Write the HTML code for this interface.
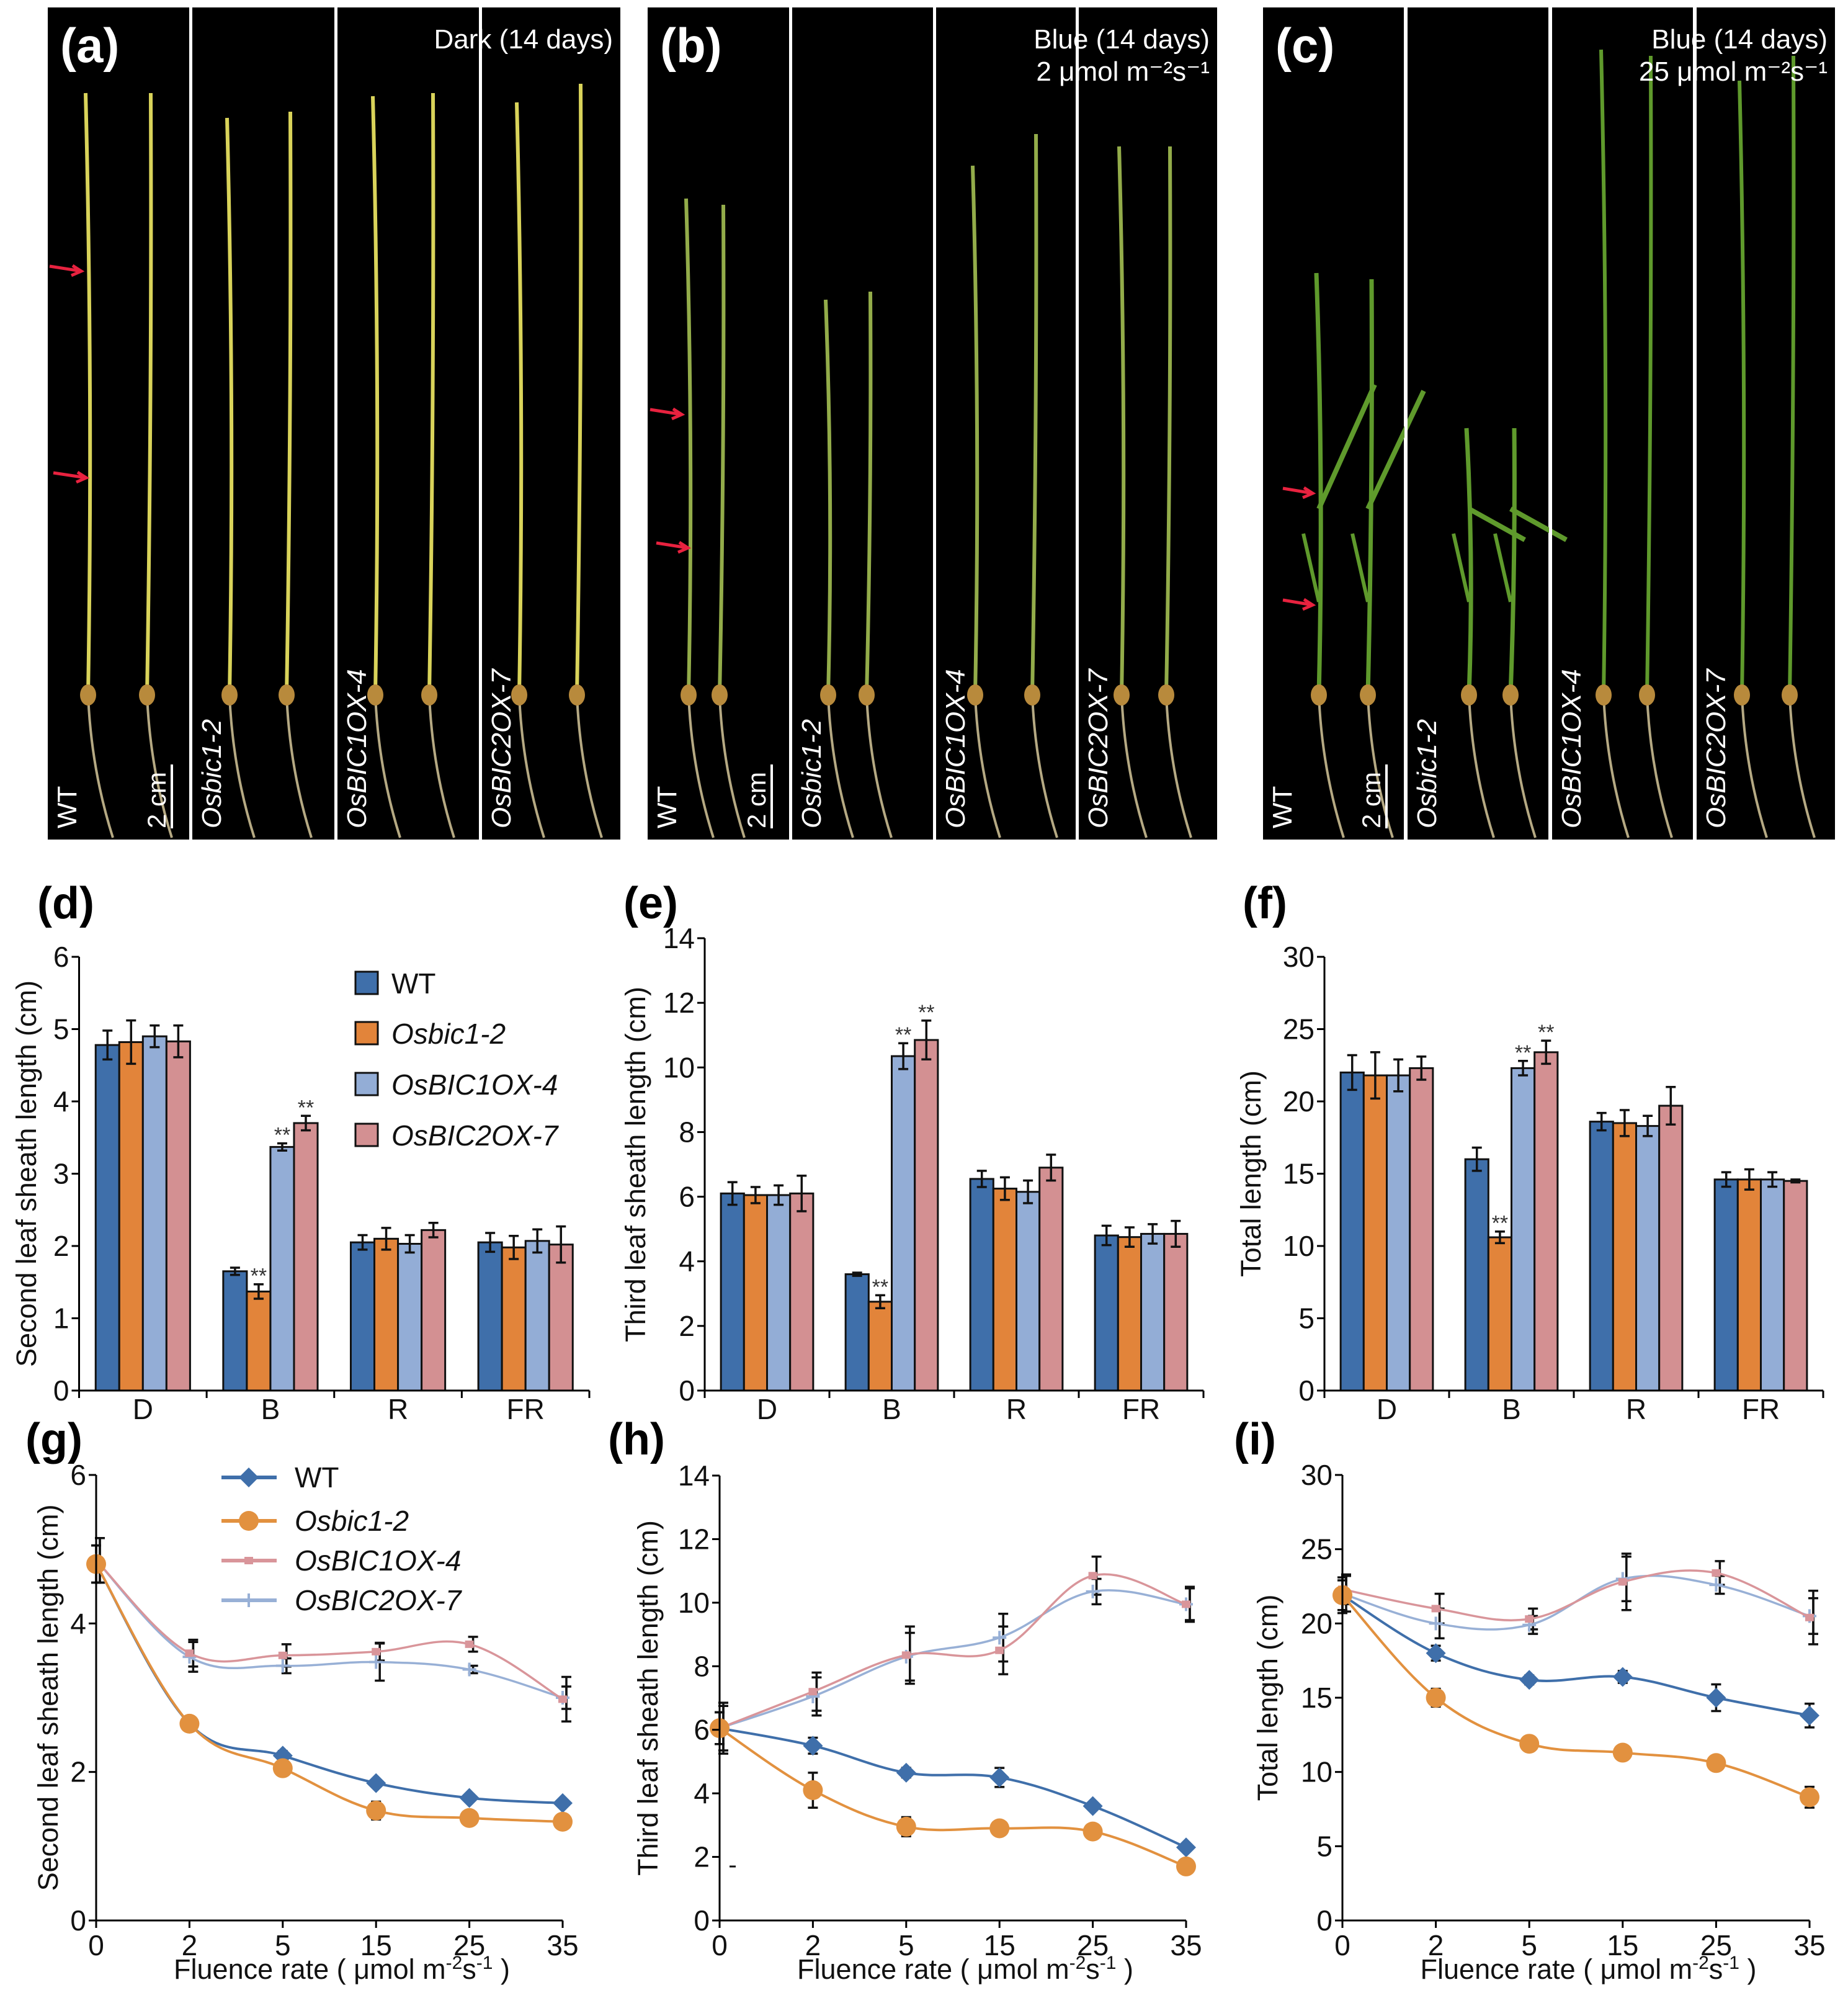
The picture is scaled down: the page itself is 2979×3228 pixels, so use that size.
<!DOCTYPE html>
<html><head><meta charset="utf-8">
<style>
html,body{margin:0;padding:0;background:#fff;}
svg{display:block;}
text{font-family:"Liberation Sans",Arial,sans-serif;}
</style></head>
<body>
<svg id="fig" xmlns="http://www.w3.org/2000/svg" width="2979" height="3228" viewBox="0 0 2979 3228">
<rect x="0" y="0" width="2979" height="3228" fill="#fff"/>
<g id="photos"></g>
<g id="charts"></g>
</svg>
<script>
// ---------- DATA ----------
const barCats = ['D','B','R','FR'];
const seriesNames = ['WT','Osbic1-2','OsBIC1OX-4','OsBIC2OX-7'];
// (d) second leaf sheath
const dWT  = [4.78,1.65,2.05,2.05];
const dOsb = [4.82,1.37,2.10,1.98];
const dOX4 = [4.90,3.37,2.03,2.07];
const dOX7 = [4.83,3.70,2.22,2.02];
const dWTe = [0.20,0.05,0.10,0.13];
const dOsbe= [0.30,0.10,0.15,0.16];
const dOX4e= [0.15,0.05,0.12,0.16];
const dOX7e= [0.22,0.10,0.10,0.25];
// (e) third leaf sheath
const eWT  = [6.10,3.60,6.55,4.80];
const eOsb = [6.05,2.75,6.25,4.75];
const eOX4 = [6.05,10.35,6.15,4.85];
const eOX7 = [6.10,10.85,6.90,4.85];
const eWTe = [0.35,0.05,0.25,0.30];
const eOsbe= [0.25,0.20,0.35,0.30];
const eOX4e= [0.30,0.40,0.35,0.30];
const eOX7e= [0.55,0.60,0.40,0.40];
// (f) total length
const fWT  = [22.0,16.0,18.6,14.6];
const fOsb = [21.8,10.6,18.5,14.6];
const fOX4 = [21.8,22.3,18.3,14.6];
const fOX7 = [22.3,23.4,19.7,14.5];
const fWTe = [1.2,0.8,0.6,0.5];
const fOsbe= [1.6,0.4,0.9,0.7];
const fOX4e= [1.1,0.5,0.7,0.5];
const fOX7e= [0.8,0.8,1.3,0.1];
// significance marks: [categoryIndex, seriesIndex]
const starMarks = [[1,1],[1,2],[1,3]];

const fluence = ['0','2','5','15','25','35'];
// (g)
const gWT  = [4.80,2.65,2.22,1.85,1.65,1.58];
const gOsb = [4.80,2.65,2.05,1.48,1.38,1.33];
const gOX4 = [4.85,3.60,3.57,3.62,3.72,2.98];
const gOX7 = [4.85,3.55,3.43,3.48,3.38,3.00];
const gWTe = [0.25,0.08,0.06,0.05,0.05,0.05];
const gOsbe= [0.25,0.10,0.06,0.12,0.05,0.10];
const gOX4e= [0.30,0.18,0.15,0.12,0.10,0.30];
const gOX7e= [0.30,0.20,0.10,0.25,0.05,0.15];
// (h)
const hWT  = [6.05,5.50,4.65,4.50,3.60,2.30];
const hOsb = [6.05,4.10,2.95,2.90,2.80,1.70];
const hOX4 = [6.05,7.20,8.35,8.50,10.85,9.95];
const hOX7 = [6.05,7.05,8.30,8.90,10.35,9.95];
const hWTe = [0.50,0.25,0.15,0.30,0.10,0.10];
const hOsbe= [0.50,0.55,0.30,0.15,0.15,0.10];
const hOX4e= [0.70,0.60,0.90,0.75,0.60,0.55];
const hOX7e= [0.80,0.60,0.75,0.75,0.40,0.50];
// (i)
const iWT  = [21.9,18.0,16.2,16.4,15.0,13.8];
const iOsb = [21.9,15.0,11.9,11.3,10.6,8.3];
const iOX4 = [22.3,21.0,20.3,22.8,23.4,20.4];
const iOX7 = [22.0,20.0,19.9,23.0,22.6,20.5];
const iWTe = [1.2,0.5,0.3,0.4,0.9,0.8];
const iOsbe= [1.0,0.6,0.4,0.4,0.3,0.7];
const iOX4e= [1.0,1.0,0.7,1.9,0.8,1.8];
const iOX7e= [1.2,1.0,0.6,1.5,0.6,1.2];

// ---------- HELPERS ----------
const NS='http://www.w3.org/2000/svg';
function mk(parent, tag, attrs, txt){
  const el=document.createElementNS(NS,tag);
  for(const k in attrs) el.setAttribute(k,attrs[k]);
  if(txt!==undefined) el.textContent=txt;
  parent.appendChild(el);
  return el;
}
const colors=['#3f6faa','#e2843a','#93add6','#d39092'];
const charts=document.getElementById('charts');
const photos=document.getElementById('photos');

// ---------- PHOTO PANELS ----------
const photoPanels=[
 {x:77,w:923,label:'(a)',lines:['Dark (14 days)'],color:'#d9d35a',strips:[[77,305],[310,539],[544,772],[777,1000]],
  plants:[[142,150],[237,150],[370,190],[462,180],[605,155],[692,150],[837,165],[930,135]],arrows:[[80,131,437],[86,139,770]]},
 {x:1044,w:918,label:'(b)',lines:['Blue (14 days)','2 μmol m⁻²s⁻¹'],color:'#93ac4a',strips:[[1044,1272],[1277,1504],[1509,1734],[1739,1962]],
  plants:[[1110,320],[1160,330],[1335,483],[1397,470],[1572,267],[1664,216],[1808,236],[1880,236]],arrows:[[1048,1099,668],[1058,1109,883]]},
 {x:2036,w:922,label:'(c)',lines:['Blue (14 days)','25 μmol m⁻²s⁻¹'],color:'#5f9a2c',strips:[[2036,2263],[2269,2496],[2502,2729],[2735,2958]],
  plants:[[2126,440],[2205,450],[2368,690],[2435,690],[2585,80],[2655,90],[2808,130],[2885,90]],arrows:[[2068,2116,795],[2068,2116,975]],leafy:true}
];
const stripNames=['WT','Osbic1-2','OsBIC1OX-4','OsBIC2OX-7'];
photoPanels.forEach((p,pi)=>{
  const g=mk(photos,'g',{});
  
  
  p.strips.forEach((s,si)=>{
    const r=mk(g,'rect',{x:s[0],y:12,width:s[1]-s[0],height:1341,fill:'#000'});
    
    
    const t=mk(g,'text',{transform:'translate('+(s[0]+46)+',1335) rotate(-90)',fill:'#fff','font-size':44,'font-style':si?'italic':'normal'},stripNames[si]);
    
    
  });
  p.plants.forEach((pl,k)=>{
    const x=pl[0], top=pl[1], seed=1120;
    const small = p.leafy && k<4;
    const stem=mk(g,'path',{d:'M'+x+' '+seed+' Q'+(x+8)+' '+((seed+top)/2)+' '+(x+(k%2?6:-4))+' '+top,stroke:p.color,'stroke-width':small?7:6,fill:'none'});
    
    
    if(small){
      const l1=mk(g,'path',{d:'M'+x+' '+(seed-300)+' L'+(x+90)+' '+(top+180),stroke:p.color,'stroke-width':8,fill:'none'});
      
      
      const l2=mk(g,'path',{d:'M'+x+' '+(seed-150)+' L'+(x-25)+' '+(seed-260),stroke:p.color,'stroke-width':6,fill:'none'});
      
      
    }
    const root=mk(g,'path',{d:'M'+x+' '+seed+' Q'+(x+5)+' 1240 '+(x+40)+' 1350',stroke:'#b5a983','stroke-width':4,fill:'none'});
    
    
    const sd=mk(g,'ellipse',{cx:x,cy:seed,rx:13,ry:17,fill:'#b88a3c'});
    
    
  });
  p.strips.slice(1).forEach(s=>{
    const d=mk(g,'rect',{x:s[0]-5,y:12,width:5,height:1341,fill:'#fff'});
    
    
  });
  const lab=mk(g,'text',{x:p.x+20,y:100,fill:'#fff','font-size':78,'font-weight':'bold'},p.label);
  
  
  p.lines.forEach((ln,li)=>{
    const t=mk(g,'text',{x:p.x+p.w-12,y:78+li*52,fill:'#fff','font-size':44,'text-anchor':'end'},ln);
    
    
  });
  p.arrows.forEach(a=>{
    const ar=mk(g,'path',{d:'M'+a[0]+' '+(a[2]-8)+' L'+a[1]+' '+a[2]+' M'+(a[1]-14)+' '+(a[2]-9)+' L'+a[1]+' '+a[2]+' L'+(a[1]-16)+' '+(a[2]+7),stroke:'#e8223f','stroke-width':5,fill:'none'});
    
    
  });
  const sbx=p.strips[0][1]-28;
  const sb=mk(g,'line',{x1:sbx,y1:1232,x2:sbx,y2:1335,stroke:'#fff','stroke-width':4});
  
  
  const sbt=mk(g,'text',{transform:'translate('+(sbx-10)+',1335) rotate(-90)',fill:'#fff','font-size':42},'2 cm');
  
  
});

// ---------- AXES ----------
function yAxis(g,c){
  const ax=mk(g,'line',{x1:c.ax,y1:c.y0,x2:c.ax,y2:c.yT,stroke:'#000','stroke-width':3});
  
  
  for(let v=0;v<=c.max+1e-9;v+=c.step){
    const y=c.ys(v);
    const tk=mk(g,'line',{x1:c.ax-12,y1:y,x2:c.ax,y2:y,stroke:'#000','stroke-width':3});
    
    
    const tl=mk(g,'text',{x:c.ax-16,y:y+16,'font-size':46,'text-anchor':'end',fill:'#111'},String(v));
    
    
  }
  const tt=mk(g,'text',{transform:'translate('+c.tx+','+((c.y0+c.yT)/2)+') rotate(-90)','font-size':45,'text-anchor':'middle',fill:'#111'},c.title);
  
  
  const pl=mk(g,'text',{x:c.lx,y:c.ly,'font-size':72,'font-weight':'bold',fill:'#000'},c.label);
  
  
}
function errBar(g,x,y1,y2,cap){
  const e=mk(g,'path',{d:'M'+x+' '+y1+' L'+x+' '+y2+' M'+(x-cap)+' '+y1+' L'+(x+cap)+' '+y1+' M'+(x-cap)+' '+y2+' L'+(x+cap)+' '+y2,stroke:'#111','stroke-width':3.5,fill:'none'});
  
  
}

// ---------- BAR CHARTS ----------
const barCharts=[
 {label:'(d)',lx:60,ly:1480,ax:127.5,x1:950,y0:2241,yT:1542,max:6,step:1,tx:58,title:'Second leaf sheath length (cm)',s:[dWT,dOsb,dOX4,dOX7],e:[dWTe,dOsbe,dOX4e,dOX7e],legend:true},
 {label:'(e)',lx:1005,ly:1480,ax:1136,x1:1940,y0:2241,yT:1512,max:14,step:2,tx:1040,title:'Third leaf sheath length (cm)',s:[eWT,eOsb,eOX4,eOX7],e:[eWTe,eOsbe,eOX4e,eOX7e]},
 {label:'(f)',lx:2003,ly:1480,ax:2135,x1:2939,y0:2241,yT:1542,max:30,step:5,tx:2032,title:'Total length (cm)',s:[fWT,fOsb,fOX4,fOX7],e:[fWTe,fOsbe,fOX4e,fOX7e]}
];
barCharts.forEach(c=>{
  const g=mk(charts,'g',{});
  
  
  c.ys=v=>c.y0-v/c.max*(c.y0-c.yT);
  const catW=(c.x1-c.ax)/barCats.length, bw=catW*0.185, off=(catW-4*bw)/2;
  c.s.forEach((ser,si)=>{
    ser.forEach((v,ci)=>{
      const x=c.ax+ci*catW+off+si*bw;
      const r=mk(g,'rect',{x:x,y:c.ys(v),width:bw,height:c.y0-c.ys(v),fill:colors[si],stroke:'#111','stroke-width':3});
      
      
      const er=c.e[si][ci];
      errBar(g,x+bw/2,c.ys(v+er),c.ys(Math.max(0,v-er)),8);
    });
  });
  starMarks.forEach(m=>{
    const v=c.s[m[1]][m[0]]+c.e[m[1]][m[0]];
    const x=c.ax+m[0]*catW+off+m[1]*bw+bw/2;
    const st=mk(g,'text',{x:x,y:c.ys(v)-2,'font-size':34,'text-anchor':'middle',fill:'#333'},'**');
    
    
  });
  const xa=mk(g,'line',{x1:c.ax,y1:c.y0,x2:c.x1,y2:c.y0,stroke:'#000','stroke-width':3});
  
  
  for(let i=0;i<=barCats.length;i++){
    const tk=mk(g,'line',{x1:c.ax+i*catW,y1:c.y0,x2:c.ax+i*catW,y2:c.y0+12,stroke:'#000','stroke-width':3});
    
    
  }
  barCats.forEach((cat,i)=>{
    const t=mk(g,'text',{x:c.ax+(i+0.5)*catW,y:2287,'font-size':46,'text-anchor':'middle',fill:'#111'},cat);
    
    
  });
  yAxis(g,c);
  if(c.legend){
    const rows=[1584,1665,1747,1829];
    seriesNames.forEach((n,i)=>{
      const sq=mk(g,'rect',{x:573,y:rows[i]-18,width:36,height:36,fill:colors[i],stroke:'#111','stroke-width':3});
      
      
      const t=mk(g,'text',{x:631,y:rows[i]+17,'font-size':46,'font-style':i?'italic':'normal',fill:'#111'},n);
      
      
    });
  }
});

// ---------- LINE CHARTS ----------
const lineCharts=[
 {label:'(g)',lx:41,ly:2344,ax:155,x1:907,y0:3095,yT:2377,max:6,step:2,tx:93,title:'Second leaf sheath length (cm)',s:[gWT,gOsb,gOX4,gOX7],e:[gWTe,gOsbe,gOX4e,gOX7e],legend:true},
 {label:'(h)',lx:980,ly:2344,ax:1160,x1:1912,y0:3095,yT:2378,max:14,step:2,tx:1060,title:'Third leaf sheath length (cm)',s:[hWT,hOsb,hOX4,hOX7],e:[hWTe,hOsbe,hOX4e,hOX7e],dash:true},
 {label:'(i)',lx:1989,ly:2344,ax:2164,x1:2917,y0:3095,yT:2377,max:30,step:5,tx:2059,title:'Total length (cm)',s:[iWT,iOsb,iOX4,iOX7],e:[iWTe,iOsbe,iOX4e,iOX7e]}
];
const lineColors=['#3f6faa','#e2913f','#d9959a','#98b0d6'];
function smooth(pts){
  let d='M'+pts[0][0]+' '+pts[0][1];
  for(let i=0;i<pts.length-1;i++){
    const p0=pts[Math.max(0,i-1)],p1=pts[i],p2=pts[i+1],p3=pts[Math.min(pts.length-1,i+2)];
    const t=0.18;
    d+=' C'+(p1[0]+(p2[0]-p0[0])*t)+' '+(p1[1]+(p2[1]-p0[1])*t)+' '+(p2[0]-(p3[0]-p1[0])*t)+' '+(p2[1]-(p3[1]-p1[1])*t)+' '+p2[0]+' '+p2[1];
  }
  return d;
}
function marker(g,si,x,y){
  let m;
  if(si===0) m=mk(g,'path',{d:'M'+x+' '+(y-16)+' L'+(x+16)+' '+y+' L'+x+' '+(y+16)+' L'+(x-16)+' '+y+'Z',fill:lineColors[0]});
  else if(si===1) m=mk(g,'circle',{cx:x,cy:y,r:16,fill:lineColors[1]});
  else if(si===2) m=mk(g,'rect',{x:x-7,y:y-6,width:14,height:12,fill:lineColors[2]});
  else m=mk(g,'path',{d:'M'+(x-11)+' '+y+' L'+(x+11)+' '+y+' M'+x+' '+(y-11)+' L'+x+' '+(y+11),stroke:lineColors[3],'stroke-width':4,fill:'none'});
  
  
}
lineCharts.forEach(c=>{
  const g=mk(charts,'g',{});
  
  
  c.ys=v=>c.y0-v/c.max*(c.y0-c.yT);
  const xs=i=>c.ax+i*(c.x1-c.ax)/(fluence.length-1);
  [2,3,0,1].forEach(si=>{
    c.s[si].forEach((v,i)=>{errBar(g,xs(i)+(si>=2?6:0),c.ys(v+c.e[si][i]),c.ys(v-c.e[si][i]),8);});
  });
  [3,2,0,1].forEach(si=>{
    const pts=c.s[si].map((v,i)=>[xs(i),c.ys(v)]);
    const ln=mk(g,'path',{d:smooth(pts),stroke:lineColors[si],'stroke-width':si<2?4:3.5,fill:'none'});
    
    
    pts.forEach(p=>marker(g,si,p[0],p[1]));
  });
  const xa=mk(g,'line',{x1:c.ax,y1:c.y0,x2:c.x1,y2:c.y0,stroke:'#000','stroke-width':3});
  
  
  fluence.forEach((f,i)=>{
    const tk=mk(g,'line',{x1:xs(i),y1:c.y0,x2:xs(i),y2:c.y0+12,stroke:'#000','stroke-width':3});
    
    
    const t=mk(g,'text',{x:xs(i),y:3151,'font-size':46,'text-anchor':'middle',fill:'#111'},f);
    
    
  });
  const xt=mk(g,'text',{x:(c.ax+c.x1)/2+20,y:3189,'font-size':45,'text-anchor':'middle',fill:'#111'});
  
  
  xt.appendChild(document.createTextNode('Fluence rate  ( μmol m'));
  mk(xt,'tspan',{dy:-16,'font-size':30},'-2');
  mk(xt,'tspan',{dy:16},'s');
  mk(xt,'tspan',{dy:-16,'font-size':30},'-1');
  mk(xt,'tspan',{dy:16},' )');
  yAxis(g,c);
  if(c.dash){
    const dm=mk(g,'line',{x1:1176,y1:3008,x2:1186,y2:3008,stroke:'#111','stroke-width':3});
    
    
  }
  if(c.legend){
    const rows=[2381,2451,2515,2579];
    seriesNames.forEach((n,i)=>{
      const l=mk(g,'line',{x1:357,y1:rows[i],x2:446,y2:rows[i],stroke:lineColors[i],'stroke-width':6});
      
      
      marker(g,i,401,rows[i]);
      const t=mk(g,'text',{x:475,y:rows[i]+16,'font-size':46,'font-style':i?'italic':'normal',fill:'#111'},n);
      
      
    });
  }
});
</script>
</body></html>
